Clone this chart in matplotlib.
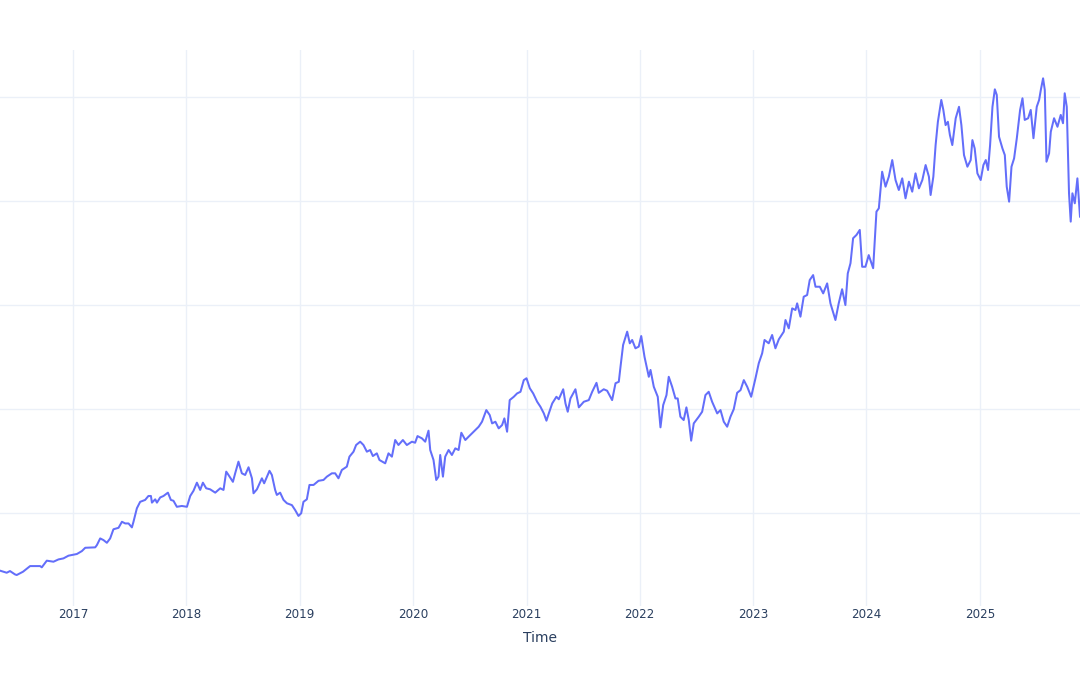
import numpy as np
import pandas as pd
import matplotlib
matplotlib.use("Agg")
import matplotlib.pyplot as plt
import matplotlib.dates as mdates

# time as fractional year (no y labels shown, so the unit is arbitrary)
years = [
    2016.355, 2016.414, 2016.443, 2016.487, 2016.502, 2016.558, 2016.620, 2016.708, 2016.723, 2016.767,
    2016.826, 2016.870, 2016.914, 2016.958, 2017.032, 2017.076, 2017.106, 2017.194, 2017.209, 2017.238,
    2017.267, 2017.297, 2017.326, 2017.355, 2017.400, 2017.430, 2017.459, 2017.488, 2017.518, 2017.532,
    2017.562, 2017.591, 2017.635, 2017.664, 2017.686, 2017.695, 2017.724, 2017.739, 2017.768, 2017.797,
    2017.836, 2017.862, 2017.885, 2017.915, 2017.959, 2018.004, 2018.033, 2018.062, 2018.092, 2018.121,
    2018.145, 2018.174, 2018.209, 2018.254, 2018.298, 2018.327, 2018.351, 2018.371, 2018.410, 2018.430,
    2018.459, 2018.489, 2018.518, 2018.548, 2018.578, 2018.592, 2018.622, 2018.666, 2018.686, 2018.733,
    2018.754, 2018.783, 2018.798, 2018.827, 2018.857, 2018.887, 2018.931, 2018.960, 2018.989, 2019.013,
    2019.033, 2019.063, 2019.086, 2019.122, 2019.166, 2019.210, 2019.240, 2019.284, 2019.313, 2019.342,
    2019.372, 2019.416, 2019.439, 2019.475, 2019.498, 2019.534, 2019.563, 2019.593, 2019.622, 2019.646,
    2019.681, 2019.704, 2019.755, 2019.784, 2019.814, 2019.843, 2019.872, 2019.911, 2019.946, 2019.991,
    2020.019, 2020.040, 2020.079, 2020.108, 2020.137, 2020.152, 2020.181, 2020.205, 2020.225, 2020.240,
    2020.264, 2020.284, 2020.314, 2020.343, 2020.373, 2020.402, 2020.426, 2020.461, 2020.490, 2020.535,
    2020.579, 2020.608, 2020.646, 2020.676, 2020.697, 2020.726, 2020.755, 2020.785, 2020.805, 2020.829,
    2020.852, 2020.888, 2020.917, 2020.947, 2020.976, 2021.000, 2021.029, 2021.059, 2021.094, 2021.123,
    2021.153, 2021.176, 2021.197, 2021.227, 2021.264, 2021.285, 2021.324, 2021.344, 2021.364, 2021.388,
    2021.432, 2021.462, 2021.506, 2021.550, 2021.580, 2021.618, 2021.638, 2021.682, 2021.712, 2021.756,
    2021.786, 2021.815, 2021.830, 2021.853, 2021.889, 2021.912, 2021.933, 2021.962, 2021.991, 2022.013,
    2022.042, 2022.080, 2022.095, 2022.124, 2022.159, 2022.183, 2022.207, 2022.236, 2022.256, 2022.286,
    2022.315, 2022.335, 2022.359, 2022.388, 2022.412, 2022.433, 2022.454, 2022.477, 2022.521, 2022.551,
    2022.580, 2022.609, 2022.639, 2022.684, 2022.713, 2022.742, 2022.772, 2022.801, 2022.830, 2022.860,
    2022.890, 2022.919, 2022.949, 2022.984, 2023.022, 2023.051, 2023.081, 2023.102, 2023.139, 2023.169,
    2023.198, 2023.228, 2023.272, 2023.287, 2023.316, 2023.346, 2023.375, 2023.390, 2023.419, 2023.448,
    2023.478, 2023.501, 2023.531, 2023.552, 2023.590, 2023.620, 2023.655, 2023.684, 2023.728, 2023.757,
    2023.787, 2023.816, 2023.837, 2023.861, 2023.884, 2023.914, 2023.943, 2023.964, 2023.993, 2024.022,
    2024.061, 2024.090, 2024.111, 2024.140, 2024.170, 2024.199, 2024.229, 2024.258, 2024.287, 2024.317,
    2024.346, 2024.376, 2024.405, 2024.434, 2024.464, 2024.494, 2024.523, 2024.552, 2024.567, 2024.591,
    2024.611, 2024.631, 2024.661, 2024.679, 2024.699, 2024.719, 2024.737, 2024.758, 2024.788, 2024.817,
    2024.838, 2024.861, 2024.891, 2024.920, 2024.935, 2024.955, 2024.979, 2025.008, 2025.032, 2025.053,
    2025.073, 2025.091, 2025.112, 2025.133, 2025.150, 2025.170, 2025.200, 2025.221, 2025.238, 2025.259,
    2025.280, 2025.303, 2025.327, 2025.356, 2025.377, 2025.397, 2025.427, 2025.450, 2025.474, 2025.503,
    2025.524, 2025.539, 2025.559, 2025.574, 2025.589, 2025.612, 2025.627, 2025.656, 2025.686, 2025.715,
    2025.735, 2025.750, 2025.768, 2025.779, 2025.788, 2025.803, 2025.818, 2025.839, 2025.862, 2025.885,
]
values = [
    22.3, 21.3, 22.1, 20.5, 20.2, 21.8, 24.5, 24.5, 23.9, 27.1,
    26.6, 27.7, 28.2, 29.5, 30.3, 31.7, 33.3, 33.5, 34.6, 37.8,
    37.0, 35.7, 37.8, 42.2, 42.9, 45.8, 45.0, 45.0, 43.1, 45.8,
    52.3, 55.4, 56.3, 58.2, 58.2, 55.0, 56.6, 55.0, 57.5, 58.2,
    59.8, 56.3, 55.9, 53.0, 53.4, 53.0, 58.2, 60.7, 64.6, 61.1,
    64.6, 61.9, 61.4, 59.8, 61.9, 61.1, 69.9, 68.3, 65.0, 69.1,
    74.7, 69.1, 68.3, 72.0, 66.7, 59.5, 61.4, 66.7, 64.3, 70.3,
    68.3, 61.1, 58.7, 59.8, 56.3, 54.7, 53.8, 51.4, 48.6, 49.9,
    55.4, 56.6, 63.5, 63.5, 65.5, 65.9, 67.5, 69.1, 69.1, 66.7,
    70.7, 72.3, 77.1, 79.5, 82.7, 84.3, 82.7, 79.5, 80.3, 77.4,
    78.7, 75.5, 73.9, 78.7, 77.1, 85.1, 82.7, 85.1, 82.7, 84.3,
    83.8, 87.0, 85.9, 84.3, 89.6, 80.3, 75.5, 65.9, 67.5, 77.9,
    67.5, 77.1, 80.3, 77.9, 81.1, 80.3, 88.6, 85.1, 86.7, 89.1,
    91.5, 93.9, 99.5, 97.1, 93.1, 93.9, 90.7, 92.3, 95.5, 89.1,
    104.3, 105.9, 107.5, 108.3, 113.9, 114.8, 110.0, 107.5, 103.5, 101.1,
    97.9, 94.4, 97.9, 102.7, 105.9, 104.7, 109.5, 102.7, 98.7, 105.1,
    109.5, 100.8, 103.5, 104.3, 108.3, 112.6, 107.8, 109.5, 108.8, 104.3,
    112.4, 113.1, 120.3, 130.8, 137.2, 131.6, 133.2, 129.2, 130.0, 135.1,
    125.1, 115.5, 118.8, 110.7, 105.9, 91.2, 101.9, 106.7, 115.5, 110.7,
    105.1, 105.1, 96.3, 94.7, 100.8, 94.7, 84.8, 93.1, 96.3, 98.7,
    106.7, 108.3, 103.5, 97.9, 99.5, 93.9, 91.5, 96.3, 99.9, 107.8,
    109.1, 113.9, 110.7, 105.9, 114.8, 122.0, 126.8, 133.2, 131.6, 135.6,
    129.2, 133.5, 137.2, 142.8, 138.8, 148.4, 147.6, 150.8, 144.4, 154.0,
    154.8, 162.0, 164.4, 158.8, 158.8, 155.6, 160.4, 150.8, 142.8, 150.8,
    157.6, 150.0, 165.2, 170.1, 182.1, 183.7, 186.1, 168.4, 168.4, 174.0,
    167.7, 194.9, 196.5, 214.1, 206.9, 211.7, 219.7, 210.1, 205.3, 210.9,
    201.3, 209.3, 204.5, 213.3, 206.1, 210.1, 217.3, 211.7, 202.9, 211.7,
    226.9, 238.1, 248.6, 243.8, 236.5, 238.1, 231.7, 226.9, 239.8, 245.3,
    236.5, 222.1, 216.5, 219.7, 229.3, 225.3, 213.3, 210.1, 217.3, 219.7,
    214.9, 226.9, 245.3, 253.7, 251.0, 230.9, 225.3, 222.1, 206.9, 199.7,
    216.5, 220.5, 230.2, 243.8, 249.4, 239.0, 239.8, 243.8, 230.2, 245.3,
    248.6, 253.4, 259.0, 253.4, 218.9, 222.9, 233.3, 239.8, 235.7, 241.4,
    237.4, 251.8, 245.3, 221.3, 203.7, 190.1, 203.7, 198.9, 210.9, 192.5,
]
y_grid = [50, 100, 150, 200, 250]


def to_date(fy):
    y = int(fy)
    start = pd.Timestamp(year=y, month=1, day=1)
    end = pd.Timestamp(year=y + 1, month=1, day=1)
    return start + (end - start) * (fy - y)


dates = [to_date(v) for v in years]

fig = plt.figure(figsize=(10.8, 6.75), dpi=100)
ax = fig.add_axes([0.0, 0.1022, 1.0, 0.8237])

ax.plot(dates, values, color='#636efa', linewidth=1.45, solid_joinstyle='round', zorder=3)

ax.set_xlim(dates[0], dates[-1])
ax.set_ylim(5.3, 272.6)

ax.xaxis.set_major_locator(mdates.YearLocator())
ax.xaxis.set_major_formatter(mdates.DateFormatter('%Y'))
ax.set_yticks(y_grid)
ax.set_yticklabels([])

ax.grid(True, color='#ebf0f8', linewidth=1.0, zorder=0)
for s in ax.spines.values():
    s.set_visible(False)
ax.tick_params(axis='both', length=0, colors='#2a3f5f', labelsize=8.6, pad=1.5)
ax.tick_params(axis='y', left=False, labelleft=False)

ax.set_xlabel('Time', fontsize=10, color='#2a3f5f', labelpad=7)

fig.savefig('out.png', dpi=100, facecolor='white')
